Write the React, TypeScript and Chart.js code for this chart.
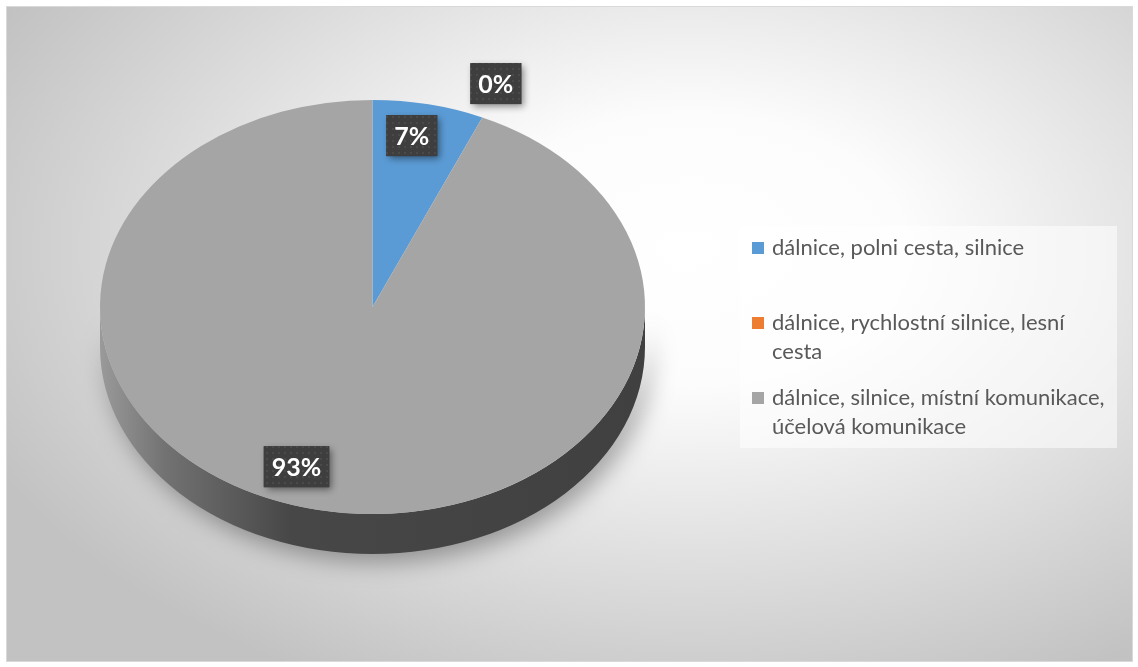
import React, { useEffect, useRef } from "react";
import { Chart, registerables } from "chart.js";

Chart.register(...registerables);

const categories: string[][] = [
  ["dálnice, polni cesta, silnice"],
  ["dálnice, rychlostní silnice, lesní", "cesta"],
  ["dálnice, silnice, místní komunikace,", "účelová komunikace"],
];
const shares: number[] = [6.6, 0, 93.4];
const sliceColors: string[] = ["#5B9BD5", "#ED7D31", "#A5A5A5"];
// label placement relative to each slice: radius fraction and angle shift (deg)
const labelPlacement = [
  { f: 0.84, da: -2 },
  { f: 1.17, da: -1 },
  { f: 0.82, da: 8 },
];

const W = 1138;
const H = 667;
const TILT = 0.76;
const DEPTH = 40;

function makeDotPattern(ctx: CanvasRenderingContext2D) {
  const c = document.createElement("canvas");
  c.width = 6;
  c.height = 6;
  const p = c.getContext("2d")!;
  p.fillStyle = "#3e3e3e";
  p.fillRect(0, 0, 6, 6);
  p.fillStyle = "#4a4a4a";
  p.fillRect(2, 2, 2, 2);
  return ctx.createPattern(c, "repeat") || "#404040";
}

const pie3d = {
  id: "pie3d",
  beforeDraw(chart: any) {
    const ctx: CanvasRenderingContext2D = chart.ctx;
    ctx.save();
    ctx.fillStyle = "#ffffff";
    ctx.fillRect(0, 0, W, H);
    ctx.save();
    ctx.translate(690, 250);
    ctx.scale(1, 0.62);
    const g = ctx.createRadialGradient(0, 0, 0, 0, 0, 780);
    g.addColorStop(0, "#ffffff");
    g.addColorStop(0.28, "#fcfcfc");
    g.addColorStop(1, "#c2c2c2");
    ctx.fillStyle = g;
    ctx.fillRect(6 - 690, (6 - 250) / 0.62, 1127, 656 / 0.62);
    ctx.restore();
    ctx.strokeStyle = "#d9d9d9";
    ctx.lineWidth = 1;
    ctx.strokeRect(6.5, 6.5, 1126, 655);
    ctx.restore();
  },
  beforeDatasetsDraw(chart: any) {
    const ctx: CanvasRenderingContext2D = chart.ctx;
    const arc = chart.getDatasetMeta(0).data[0];
    const { x, y, outerRadius } = arc.getProps(["x", "y", "outerRadius"], true);
    const R = outerRadius;
    const ry = R * TILT;
    ctx.save();
    ctx.beginPath();
    ctx.ellipse(x, y, R, ry, 0, 0, Math.PI, false);
    ctx.lineTo(x - R, y + DEPTH);
    ctx.ellipse(x, y + DEPTH, R, ry, 0, Math.PI, 0, true);
    ctx.closePath();
    const lg = ctx.createLinearGradient(x - R, 0, x + R, 0);
    lg.addColorStop(0, "#9a9a9a");
    lg.addColorStop(0.12, "#727272");
    lg.addColorStop(0.35, "#474747");
    lg.addColorStop(1, "#404040");
    ctx.fillStyle = lg;
    ctx.shadowColor = "rgba(0,0,0,0.35)";
    ctx.shadowBlur = 24;
    ctx.shadowOffsetX = 6;
    ctx.shadowOffsetY = 8;
    ctx.fill();
    ctx.restore();
    ctx.save();
    ctx.translate(x, y);
    ctx.scale(1, TILT);
    ctx.translate(-x, -y);
  },
  afterDatasetsDraw(chart: any) {
    const ctx: CanvasRenderingContext2D = chart.ctx;
    ctx.restore();
    const meta = chart.getDatasetMeta(0);
    const data: number[] = chart.data.datasets[0].data;
    const total = data.reduce((a, b) => a + b, 0);
    const pattern = makeDotPattern(ctx);
    ctx.save();
    ctx.font = "bold 25px Lato";
    ctx.textAlign = "center";
    ctx.textBaseline = "middle";
    meta.data.forEach((el: any, i: number) => {
      const { x, y, startAngle, endAngle, outerRadius } = el.getProps(
        ["x", "y", "startAngle", "endAngle", "outerRadius"],
        true
      );
      const pl = labelPlacement[i];
      const mid = (startAngle + endAngle) / 2 + (pl.da * Math.PI) / 180;
      const r = outerRadius * pl.f;
      const lx = x + Math.cos(mid) * r;
      const ly = y + Math.sin(mid) * r * TILT;
      const text = Math.round((data[i] / total) * 100) + "%";
      const tw = ctx.measureText(text).width;
      const bw = tw + 16;
      const bh = 41;
      ctx.save();
      ctx.shadowColor = "rgba(0,0,0,0.45)";
      ctx.shadowBlur = 7;
      ctx.shadowOffsetX = 3;
      ctx.shadowOffsetY = 3;
      ctx.fillStyle = "#404040";
      ctx.fillRect(lx - bw / 2, ly - bh / 2, bw, bh);
      ctx.restore();
      ctx.fillStyle = pattern;
      ctx.fillRect(lx - bw / 2, ly - bh / 2, bw, bh);
      ctx.fillStyle = "#ffffff";
      ctx.fillText(text, lx, ly + 1);
    });
    ctx.restore();
  },
  afterDraw(chart: any) {
    const ctx: CanvasRenderingContext2D = chart.ctx;
    const labels: string[][] = chart.data.labels;
    const colors: string[] = chart.data.datasets[0].backgroundColor;
    const bx = 740;
    const by = 226;
    const bw = 377;
    const bh = 222;
    ctx.save();
    ctx.fillStyle = "rgba(255,255,255,0.55)";
    ctx.fillRect(bx, by, bw, bh);
    ctx.font = "22px Lato";
    ctx.textBaseline = "middle";
    ctx.textAlign = "left";
    const step = 75;
    const lineH = 28.5;
    labels.forEach((lines, i) => {
      const y0 = by + 22 + step * i;
      ctx.fillStyle = colors[i];
      ctx.fillRect(bx + 12, y0 - 6, 12, 12);
      ctx.fillStyle = "#595959";
      lines.forEach((ln, j) => {
        ctx.fillText(ln, bx + 32, y0 + j * lineH);
      });
    });
    ctx.restore();
  },
};

export default function App() {
  const ref = useRef<HTMLCanvasElement>(null);
  useEffect(() => {
    const chart = new Chart(ref.current!, {
      type: "pie",
      data: {
        labels: categories as any,
        datasets: [
          {
            data: shares,
            backgroundColor: sliceColors,
            borderWidth: 0,
            hoverOffset: 0,
            offset: 0,
            clip: false as any,
          },
        ],
      },
      options: {
        responsive: false,
        animation: false,
        events: [],
        layout: { padding: { left: 100, right: 493, top: 34.5, bottom: 87.5 } },
        plugins: {
          legend: { display: false },
          tooltip: { enabled: false },
        },
      },
      plugins: [pie3d],
    });
    return () => chart.destroy();
  }, []);
  return (
    <div style={{ position: "absolute", left: 0, top: 0, width: W, height: H }}>
      <canvas ref={ref} width={W} height={H} />
    </div>
  );
}
